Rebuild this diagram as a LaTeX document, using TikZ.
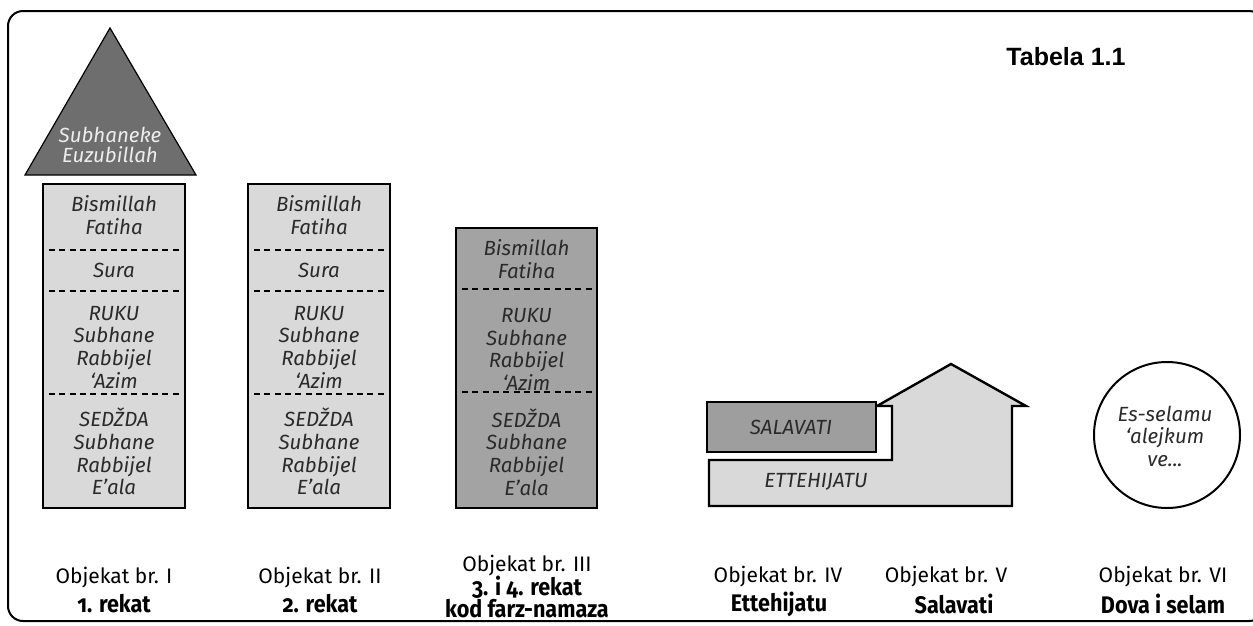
\documentclass[tikz,border=0pt]{standalone}
\usepackage{fontspec}
\setmainfont{Fira Sans}
\newfontfamily\titlefont{Liberation Sans}
\newfontfamily\oldnum[Numbers=OldStyle,FakeStretch=0.9]{Fira Sans}
\definecolor{lightg}{HTML}{D9D9D9}
\definecolor{midg}{HTML}{A3A3A3}
\definecolor{darkg}{HTML}{6E6E6E}
\definecolor{txtg}{HTML}{2A2A2A}
\tikzset{
  colbox/.style={draw=black, line width=2.4pt},
  sep/.style={line width=1.8pt, dash pattern=on 6pt off 4.3pt},
  itxt/.style={align=center, text=txtg, inner sep=0pt,
    font=\itshape\fontsize{20.5}{22.7}\selectfont},
  objlbl/.style={align=center, inner sep=0pt, font=\fontsize{21}{24}\selectfont},
  boldlbl/.style={align=center, inner sep=0pt, font=\oldnum\bfseries\fontsize{24}{20}\selectfont},
}
\begin{document}
\begin{tikzpicture}[x=1pt,y=-1pt]
\path[use as bounding box] (0,0) rectangle (1253,625);
\clip (0,0) rectangle (1253,625);
% frame
\draw[line width=2pt, rounded corners=15pt] (8,11) rectangle (1264,621);
% title
\node[font=\titlefont\bfseries\fontsize{25}{28}\selectfont, inner sep=0pt] (title) at (1066,57) {Tabela 1.1};

% triangle
\draw[fill=darkg, line width=1.2pt] (110,28) -- (196,175) -- (25,175) -- cycle;
\node[itxt, text=white!93!black, font=\itshape\fontsize{20.5}{20}\selectfont] (tri) at (110,145) {Subhaneke\\Euzubillah};

% column 1
\draw[colbox, fill=lightg] (43,184) rectangle (185,508);
\foreach \yy in {250,291,394} \draw[sep] (49,\yy) -- (181,\yy);
\node[itxt] (c1a) at (114,215) {Bismillah\\Fatiha};
\node[itxt] (c1b) at (114,270) {Sura};
\node[itxt] (c1c) at (114,347) {RUKU\\Subhane\\Rabbijel\\‘Azim};
\node[itxt] (c1d) at (114,451.5) {SEDŽDA\\Subhane\\Rabbijel\\E’ala};

% column 2
\draw[colbox, fill=lightg] (248,184) rectangle (390,508);
\foreach \yy in {250,291,394} \draw[sep] (254,\yy) -- (386,\yy);
\node[itxt] (c2a) at (319,215) {Bismillah\\Fatiha};
\node[itxt] (c2b) at (319,270) {Sura};
\node[itxt] (c2c) at (319,347) {RUKU\\Subhane\\Rabbijel\\‘Azim};
\node[itxt] (c2d) at (319,451.5) {SEDŽDA\\Subhane\\Rabbijel\\E’ala};

% column 3
\draw[colbox, fill=midg] (456,228) rectangle (597,508);
\foreach \yy in {289,392} \draw[sep] (462,\yy) -- (593,\yy);
\node[itxt] (c3a) at (526.5,259) {Bismillah\\Fatiha};
\node[itxt] (c3c) at (526.5,349.5) {RUKU\\Subhane\\Rabbijel\\‘Azim};
\node[itxt] (c3d) at (526.5,452) {SEDŽDA\\Subhane\\Rabbijel\\E’ala};

% house (Ettehijatu)
\draw[line width=2.4pt, fill=lightg, line join=miter]
  (709,506) -- (709,460) -- (892,460) -- (892,406) -- (877,406)
  -- (951,364) -- (1026,406) -- (1012,406) -- (1012,506) -- cycle;
\node[itxt] (ett) at (816,482) {ETTEHIJATU};
% Salavati box
\draw[colbox, fill=midg!97!black] (707,402) rectangle (876,452);
\node[itxt] (sal) at (791,427) {SALAVATI};

% circle
\draw[line width=2pt] (1167,435) circle (73);
\node[itxt, font=\itshape\fontsize{20.5}{22.5}\selectfont] (sel) at (1165,436) {Es-selamu\\‘alejkum\\ve...};

% labels
\node[objlbl] (o1) at (114,578) {Objekat br. I};
\node[boldlbl] (b1) at (114,604) {1. rekat};
\node[objlbl] (o2) at (320,578) {Objekat br. II};
\node[boldlbl] (b2) at (320,604) {2. rekat};
\node[objlbl] (o3) at (527,566) {Objekat br. III};
\node[boldlbl] (b3) at (527,597) {3. i 4. rekat\\kod farz-namaza};
\node[objlbl] (o4) at (778,577) {Objekat br. IV};
\node[boldlbl] (b4) at (779,604) {Ettehijatu};
\node[objlbl] (o5) at (946,577) {Objekat br. V};
\node[boldlbl] (b5) at (954,604) {Salavati};
\node[objlbl] (o6) at (1163,577) {Objekat br. VI};
\node[boldlbl] (b6) at (1163,604) {Dova i selam};
\end{tikzpicture}
\end{document}
